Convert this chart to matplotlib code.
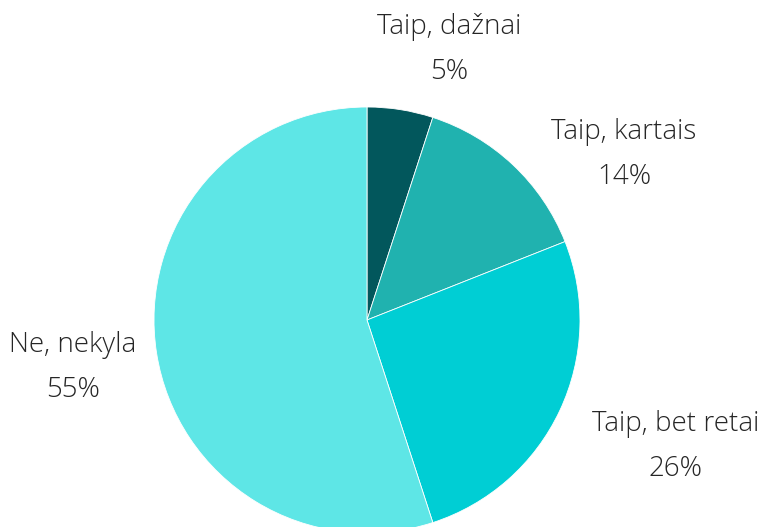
import matplotlib
matplotlib.use("Agg")
import matplotlib.pyplot as plt

categories = ["Taip, dažnai", "Taip, kartais", "Taip, bet retai", "Ne, nekyla"]
values = [5, 14, 26, 55]
colors = ["#02575C", "#20B2AF", "#00CED4", "#5EE6E6"]

W, H = 765, 527
fig = plt.figure(figsize=(W / 100, H / 100), dpi=100)
ax = fig.add_axes([0, 0, 1, 1])

cx, cy, r = 367, H - 320, 213
ax.pie(values, colors=colors, startangle=90, counterclock=False,
       center=(cx, cy), radius=r, frame=True,
       wedgeprops=dict(edgecolor="white", linewidth=0.6))
ax.set_xlim(0, W)
ax.set_ylim(0, H)
ax.set_aspect("equal")
ax.axis("off")

label_pos = [(449, 27), (624, 132), (676, 424), (73, 345)]
font = dict(family=["Open Sans", "DejaVu Sans"], fontsize=20, color="#262626", weight="light")
for (x, y), cat, v in zip(label_pos, categories, values):
    ax.text(x, H - y, cat, ha="center", va="center", **font)
    ax.text(x, H - (y + 45), f"{v}%", ha="center", va="center", **font)

fig.savefig("out.png", dpi=100)
